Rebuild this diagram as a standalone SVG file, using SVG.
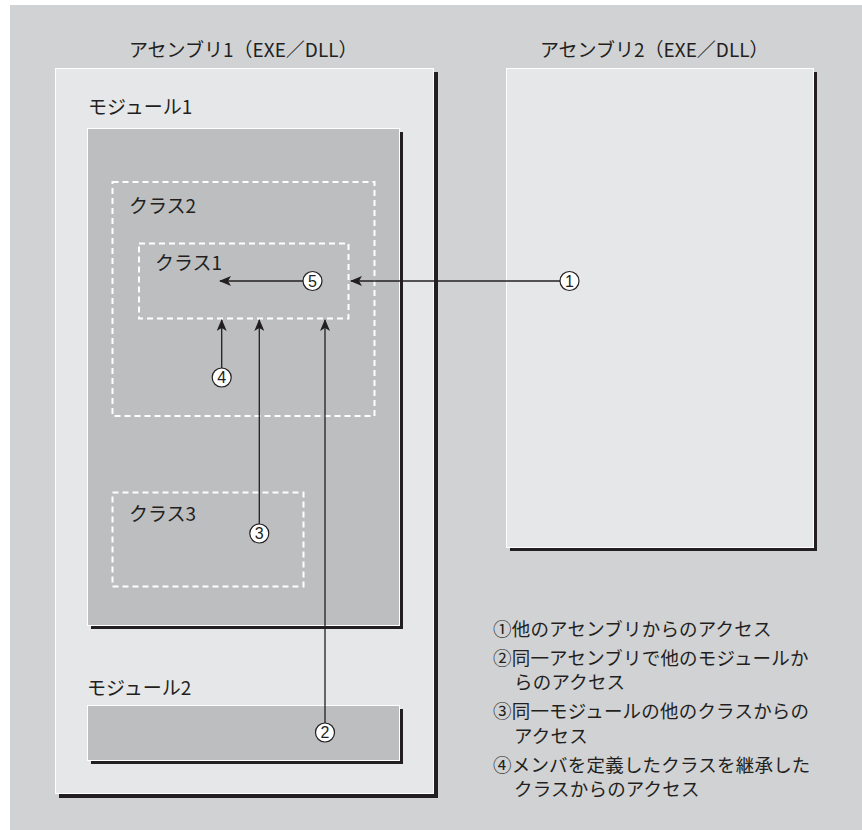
<svg xmlns="http://www.w3.org/2000/svg" width="862" height="830" viewBox="0 0 862 830">
<defs>
<style>
.t{font-family:"Noto Sans CJK JP","Noto Sans",sans-serif;fill:#231f20}
.title{font-size:19px}
.lbl{font-size:19px}
.leg{font-size:18.5px;letter-spacing:0.2px}
.shadow{fill:#231f20}
.asm{fill:#e6e7e8;stroke:#ffffff;stroke-width:1}
.mod{fill:#bcbec0;stroke:#ffffff;stroke-width:1}
.cls{fill:none;stroke:#ffffff;stroke-width:2;stroke-dasharray:6 4}
.con{stroke:#231f20;stroke-width:1.3;fill:none;marker-end:url(#ah)}
.num circle{fill:#ffffff;stroke:#231f20;stroke-width:1.2}
.num text{font-family:"Liberation Sans",Arial,sans-serif;font-size:16px;fill:#231f20;text-anchor:middle}
</style>
<marker id="ah" viewBox="0 0 12 10" refX="11" refY="5" markerWidth="12" markerHeight="10" markerUnits="userSpaceOnUse" orient="auto">
<path d="M0,0 L12,5 L0,10 L3,5 Z" fill="#231f20"/>
</marker>
</defs>
<rect x="0" y="0" width="862" height="830" fill="#ffffff"/>
<rect x="10" y="5" width="852" height="825" fill="#d1d2d4"/>

<g id="assembly1">
<rect class="shadow" x="59" y="72" width="379" height="726"/>
<rect class="asm" x="55.5" y="68.5" width="378" height="725"/>
<text class="t title" x="129" y="57">アセンブリ1（EXE／DLL）</text>
</g>

<g id="assembly2">
<rect class="shadow" x="510" y="72" width="307" height="479"/>
<rect class="asm" x="506.5" y="68.5" width="307" height="479"/>
<text class="t title" x="540" y="57">アセンブリ2（EXE／DLL）</text>
</g>

<g id="module1">
<rect class="shadow" x="91" y="132" width="312" height="497"/>
<rect class="mod" x="87.5" y="128.5" width="312" height="497"/>
<text class="t lbl" x="88" y="114">モジュール1</text>
</g>

<g id="module2">
<rect class="shadow" x="91" y="709" width="312" height="55"/>
<rect class="mod" x="87.5" y="705.5" width="312" height="55"/>
<text class="t lbl" x="87" y="695">モジュール2</text>
</g>

<g id="class2">
<rect class="cls" x="112.5" y="182" width="262" height="234"/>
<text class="t lbl" x="129" y="213">クラス2</text>
</g>

<g id="class1">
<rect class="cls" x="139" y="243.5" width="209.5" height="75"/>
<text class="t lbl" x="155" y="270">クラス1</text>
</g>

<g id="class3">
<rect class="cls" x="112.5" y="492.5" width="191" height="94"/>
<text class="t lbl" x="129" y="521">クラス3</text>
</g>

<g id="connectors">
<line class="con" x1="560" y1="281" x2="351" y2="281"/>
<line class="con" x1="303" y1="281" x2="220" y2="281"/>
<line class="con" x1="221.7" y1="368" x2="221.7" y2="320"/>
<line class="con" x1="259.3" y1="524" x2="259.3" y2="320"/>
<line class="con" x1="325" y1="723" x2="325" y2="320"/>
</g>

<g id="n1" class="num"><circle cx="569.5" cy="281" r="9.5"/><text x="569.5" y="286.7">1</text></g>
<g id="n5" class="num"><circle cx="312.5" cy="281" r="9.5"/><text x="312.5" y="286.7">5</text></g>
<g id="n4" class="num"><circle cx="221.7" cy="377.5" r="9.5"/><text x="221.7" y="383.2">4</text></g>
<g id="n3" class="num"><circle cx="259.3" cy="533.5" r="9.5"/><text x="259.3" y="539.2">3</text></g>
<g id="n2" class="num"><circle cx="325" cy="732.5" r="9.5"/><text x="325" y="738.2">2</text></g>

<g id="legend">
<text class="t leg" x="493" y="636">①他のアセンブリからのアクセス</text>
<text class="t leg" x="493" y="665">②同一アセンブリで他のモジュールか</text>
<text class="t leg" x="514" y="689">らのアクセス</text>
<text class="t leg" x="493" y="718">③同一モジュールの他のクラスからの</text>
<text class="t leg" x="514" y="743">アクセス</text>
<text class="t leg" x="493" y="772">④メンバを定義したクラスを継承した</text>
<text class="t leg" x="514" y="796">クラスからのアクセス</text>
</g>
</svg>
